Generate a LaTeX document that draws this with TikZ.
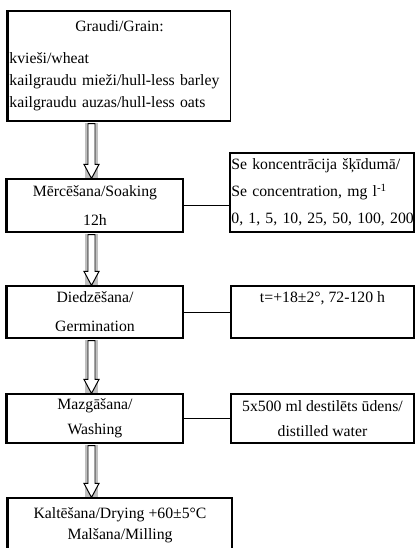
\documentclass[tikz,border=0pt]{standalone}
\usepackage{fontspec}
\setmainfont{Liberation Serif}
\usetikzlibrary{positioning,calc}
\definecolor{bargray}{RGB}{192,192,192}

\begin{document}
\begin{tikzpicture}[x=0.025cm, y=-0.025cm, font=\fontsize{11.2}{15.6}\selectfont]

    % Define block styles
    \tikzstyle{stage} = [draw, line width=0.8pt, inner sep=2pt, align=center]
    \tikzstyle{cond} = [draw, line width=0.8pt, inner sep=2pt]
    \tikzstyle{link} = [line width=0.6pt]
    \tikzstyle{hollow} = [draw, line width=0.7pt, fill=white]

    \useasboundingbox (0,0) rectangle (416,548);

    % Left column
    \node[stage, align=left, inner xsep=1pt, text width=5.5cm, minimum height=2.75cm] (grain) at (119.5,66)
        {\makebox[5.5cm]{Graudi/Grain:}\\[7pt]
         kvieši/wheat\\
         kailgraudu mieži/hull-less barley\\
         kailgraudu auzas/hull-less oats};
    \node[stage, minimum width=4.4cm, minimum height=1.325cm] (soak) at (95,205.5)
        {Mērcēšana/Soaking\\[5pt] 12h};
    \node[stage, minimum width=4.4cm, minimum height=1.3cm] (germ) at (95,312)
        {Diedzēšana/\\[5pt] Germination};
    \node[stage, minimum width=4.4cm, minimum height=1.225cm] (wash) at (95,418.5)
        {Mazgāšana/\\[2.2pt] Washing};
    \node[stage, minimum width=5.6cm, minimum height=1.35cm] (dry) at (120,525)
        {Kaltēšana/Drying +60±5°C\\[-0.6pt] Malšana/Milling};

    % Right column
    \node[cond, align=left, inner xsep=1pt, text width=4.53cm, minimum height=1.975cm] (conc) at (322,192.5)
        {\mbox{Se koncentrācija šķīdumā/}\\[3.6pt]
         \mbox{Se concentration, mg l\textsuperscript{-1}}\\[3.6pt]
         \mbox{0, 1, 5, 10, 25, 50, 100, 200}};
    \node[cond, align=center, minimum width=4.575cm, minimum height=1.3cm] (temp) at (322.5,312)
        {t=+18±2°, 72-120 h\\[5pt] \mbox{}};
    \node[cond, align=center, minimum width=4.575cm, minimum height=1.225cm] (water) at (322.5,418.5)
        {5x500 ml destilēts ūdens/\\[2.2pt] distilled water};

    % Shadow edges
    \foreach \n in {grain, soak, germ, wash, dry}
        \draw[line width=1.6pt] (\n.north west) -- (\n.south west);

    % Links
    \draw[link] (soak.east) -- (soak.east -| conc.west);
    \draw[link] (germ.east) -- (germ.east -| temp.west);
    \draw[link] (wash.east) -- (wash.east -| water.west);

    % Flow arrows
    \coordinate (axis) at (91.5,0);
    \foreach \a/\b in {grain/soak, soak/germ, germ/wash, wash/dry} {
        \path (\a.south -| axis) coordinate (tail) (\b.north -| axis) coordinate (tip);
        \fill[bargray] ($(tail)+(-6.5,1)$) rectangle ($(tip)+(6.5,-0.5)$);
        \draw[hollow] ($(tail)+(-3.5,2)$) -- ($(tip)+(-3.5,-14)$) -- ($(tip)+(-7.5,-14)$) -- (tip)
            -- ($(tip)+(7.5,-14)$) -- ($(tip)+(3.5,-14)$) -- ($(tail)+(3.5,2)$) -- cycle;
    }

\end{tikzpicture}
\end{document}
